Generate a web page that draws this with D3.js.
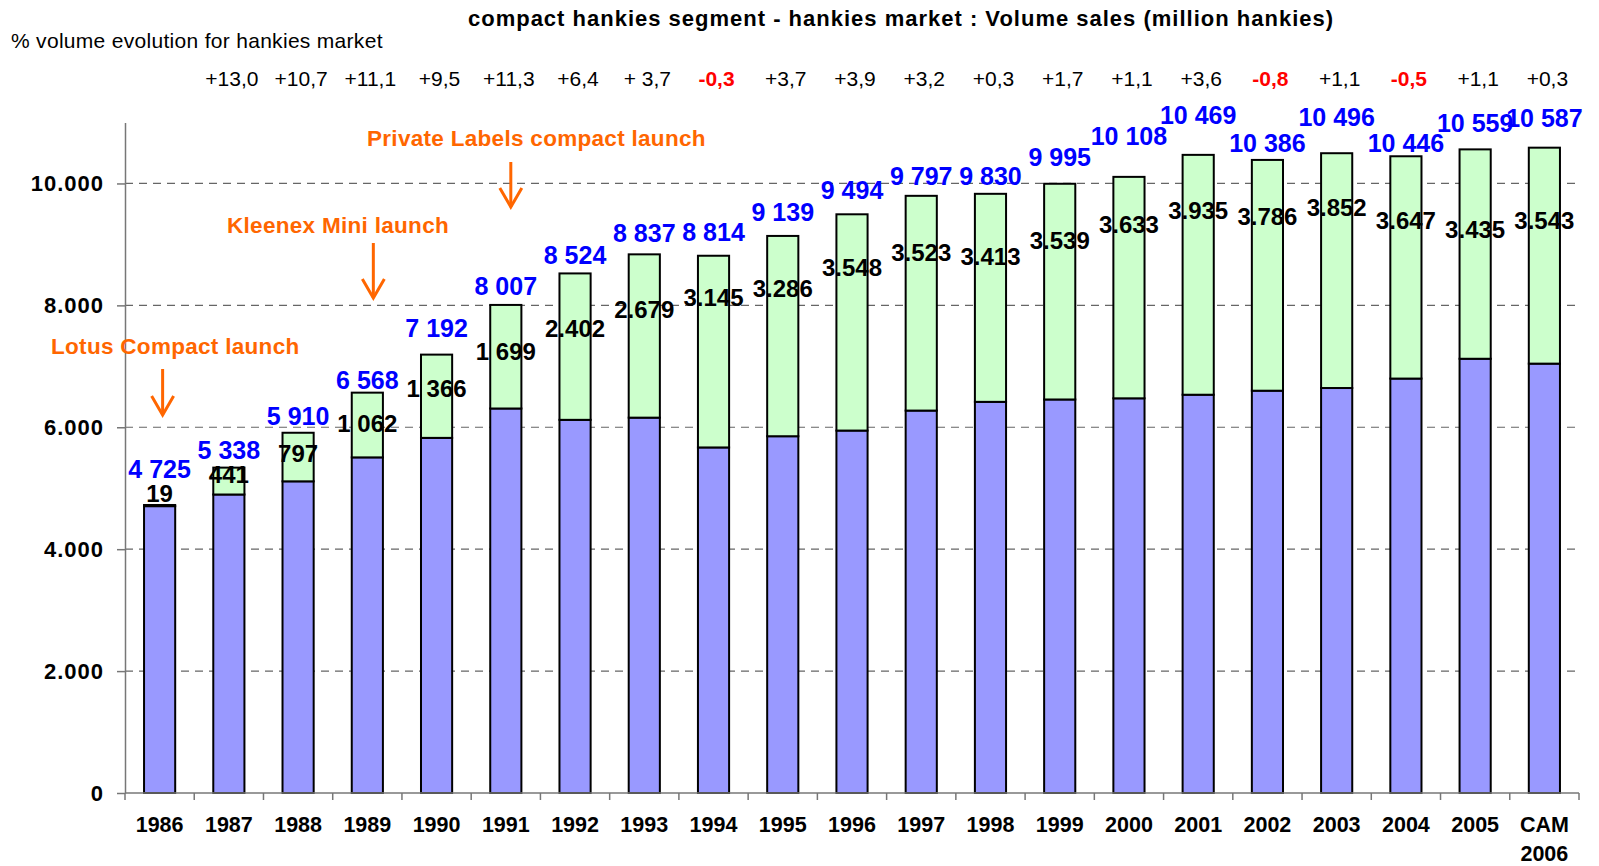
<!DOCTYPE html>
<html>
<head>
<meta charset="utf-8">
<script src="https://cdn.jsdelivr.net/npm/d3@7"></script>
<style>
  body { margin: 0; background: #fff; }
  text { font-family: "Liberation Sans", Arial, sans-serif; }
</style>
</head>
<body>
<script>
// data (million hankies)
var years = ["1986","1987","1988","1989","1990","1991","1992","1993","1994","1995","1996",
             "1997","1998","1999","2000","2001","2002","2003","2004","2005","CAM 2006"]
var total = [4725,5338,5910,6568,7192,8007,8524,8837,8814,9139,9494,
             9797,9830,9995,10108,10469,10386,10496,10446,10559,10587]
var compact = [19,441,797,1062,1366,1699,2402,2679,3145,3286,3548,
               3523,3413,3539,3633,3935,3786,3852,3647,3435,3543]
// the source prints the small ones with a space, the big ones with a dot
var compactText = ["19","441","797","1 062","1 366","1 699","2.402","2.679","3.145","3.286","3.548",
                   "3.523","3.413","3.539","3.633","3.935","3.786","3.852","3.647","3.435","3.543"]
// % volume evolution, from 1987 to CAM 2006
var evolution = ["+13,0","+10,7","+11,1","+9,5","+11,3","+6,4","+ 3,7","-0,3","+3,7","+3,9",
                 "+3,2","+0,3","+1,7","+1,1","+3,6","-0,8","+1,1","-0,5","+1,1","+0,3"]
var yTicks = [0,2000,4000,6000,8000,10000]

var launches = [
  {text: "Lotus Compact launch", year: "1986"},
  {text: "Kleenex Mini launch", year: "1989"},
  {text: "Private Labels compact launch", year: "1991"}
]

// hand placement of the labels, as in the original sheet (pixels)
var totalLift = [36,18,17,13,27,19,18,21,24,24,24,20,18,27,41,40,17,36,13,26,30]
var compactDrop = [-11,7,21,31,34,47,55,55,42,53,53,57,63,57,48,56,57,54,64,80,73]

var width = 1599, height = 866
var mLeft = 125, mRight = 1579, mTop = 122.5, mBottom = 793

var svg = d3.select("body").append("svg")
    .attr("width", width)
    .attr("height", height)

var x = d3.scaleBand().domain(years).range([mLeft, mRight]).padding(0)
var y = d3.scaleLinear().domain([0, 11000]).range([mBottom, mTop])
var barW = x.bandwidth() * 0.45
var cx = function (d) { return x(d) + x.bandwidth() / 2 }

var fmtTick = d3.formatLocale({decimal: ",", thousands: ".", grouping: [3], currency: ["", ""]}).format(",d")
var fmtTotal = d3.formatLocale({decimal: ",", thousands: " ", grouping: [3], currency: ["", ""]}).format(",d")

// title
svg.append("text")
    .attr("x", 901).attr("y", 26)
    .attr("text-anchor", "middle")
    .style("font-size", "22px").style("font-weight", "bold")
    .style("letter-spacing", "1px")
    .text("compact hankies segment - hankies market : Volume sales (million hankies)")

svg.append("text")
    .attr("x", 11).attr("y", 48)
    .style("font-size", "21px")
    .style("letter-spacing", "0.3px")
    .text("% volume evolution for hankies market")

// gridlines
svg.append("g").selectAll("line")
    .data(yTicks.filter(function (d) { return d > 0 }))
    .enter().append("line")
    .attr("x1", mLeft).attr("x2", mRight)
    .attr("y1", function (d) { return y(d) }).attr("y2", function (d) { return y(d) })
    .attr("stroke", "#666").attr("stroke-width", 1.2)
    .attr("stroke-dasharray", "8,6")

// y axis
var yAxis = svg.append("g")
    .attr("transform", "translate(" + mLeft + ",0)")
    .call(d3.axisLeft(y).tickValues(yTicks).tickSize(8).tickSizeOuter(0).tickPadding(13).tickFormat(fmtTick))
yAxis.select(".domain").attr("stroke", "#777").attr("stroke-width", 1.5)
yAxis.selectAll(".tick line").attr("stroke", "#777").attr("stroke-width", 1.5)
yAxis.selectAll(".tick text")
    .style("font-size", "22px").style("font-weight", "bold")
    .style("letter-spacing", "1px").attr("fill", "#000")

// bars
var bars = svg.append("g").selectAll("g")
    .data(years)
    .enter().append("g")

bars.append("rect")
    .attr("x", function (d) { return cx(d) - barW / 2 })
    .attr("width", barW)
    .attr("y", function (d, i) { return y(total[i] - compact[i]) })
    .attr("height", function (d, i) { return y(0) - y(total[i] - compact[i]) })
    .attr("fill", "#9999FF").attr("stroke", "#000").attr("stroke-width", 2)

bars.append("rect")
    .attr("x", function (d) { return cx(d) - barW / 2 })
    .attr("width", barW)
    .attr("y", function (d, i) { return y(total[i]) })
    .attr("height", function (d, i) { return y(total[i] - compact[i]) - y(total[i]) })
    .attr("fill", "#CCFFCC").attr("stroke", "#000").attr("stroke-width", 2)

// x axis
svg.append("line")
    .attr("x1", mLeft).attr("x2", mRight).attr("y1", mBottom).attr("y2", mBottom)
    .attr("stroke", "#777").attr("stroke-width", 1.5)

svg.append("g").selectAll("line")
    .data(years.concat(["end"]))
    .enter().append("line")
    .attr("x1", function (d) { return d == "end" ? mRight : x(d) })
    .attr("x2", function (d) { return d == "end" ? mRight : x(d) })
    .attr("y1", mBottom).attr("y2", mBottom + 7)
    .attr("stroke", "#777").attr("stroke-width", 1.5)

var yearLabels = svg.append("g").selectAll("text")
    .data(years)
    .enter().append("text")
    .attr("x", function (d) { return cx(d) })
    .attr("y", 832)
    .attr("text-anchor", "middle")
    .style("font-size", "21.5px").style("font-weight", "bold")
yearLabels.each(function (d) {
    var parts = d.split(" ")
    var t = d3.select(this)
    parts.forEach(function (p, k) {
        t.append("tspan").attr("x", cx(d)).attr("dy", k == 0 ? 0 : 29).text(p)
    })
})

// value labels
svg.append("g").selectAll("text")
    .data(years)
    .enter().append("text")
    .attr("x", function (d) { return cx(d) })
    .attr("y", function (d, i) { return y(total[i]) - totalLift[i] + 9 })
    .attr("text-anchor", "middle")
    .attr("fill", "#0000FF")
    .style("font-size", "25px").style("font-weight", "bold")
    .text(function (d, i) { return fmtTotal(total[i]) })

svg.append("g").selectAll("text")
    .data(years)
    .enter().append("text")
    .attr("x", function (d) { return cx(d) })
    .attr("y", function (d, i) { return y(total[i]) + compactDrop[i] + 8.5 })
    .attr("text-anchor", "middle")
    .attr("fill", "#000")
    .style("font-size", "24px").style("font-weight", "bold")
    .text(function (d, i) { return compactText[i] })

// evolution row
svg.append("g").selectAll("text")
    .data(evolution)
    .enter().append("text")
    .attr("x", function (d, i) { return cx(years[i + 1]) + 3 })
    .attr("y", 86)
    .attr("text-anchor", "middle")
    .attr("fill", function (d) { return d[0] == "-" ? "#FF0000" : "#000" })
    .style("font-size", "21px")
    .style("font-weight", function (d) { return d[0] == "-" ? "bold" : "normal" })
    .text(function (d) { return d })

// launch annotations
var orange = "#FF6600"
var annY = [{ty: 354, a0: 369, a1: 415, tx: 51}, {ty: 233, a0: 243, a1: 298, tx: 227}, {ty: 146, a0: 162, a1: 207, tx: 367}]
launches.forEach(function (l, k) {
    var ax = cx(l.year) + (k == 0 ? 3 : k == 1 ? 6 : 5)
    svg.append("text")
        .attr("x", annY[k].tx).attr("y", annY[k].ty)
        .attr("fill", orange)
        .style("font-size", "22.5px").style("font-weight", "bold")
        .style("letter-spacing", "0.3px")
        .text(l.text)
    svg.append("line")
        .attr("x1", ax).attr("x2", ax).attr("y1", annY[k].a0).attr("y2", annY[k].a1)
        .attr("stroke", orange).attr("stroke-width", 3)
    svg.append("path")
        .attr("d", "M" + (ax - 11) + "," + (annY[k].a1 - 19) + "L" + ax + "," + annY[k].a1 + "L" + (ax + 11) + "," + (annY[k].a1 - 19))
        .attr("fill", "none").attr("stroke", orange).attr("stroke-width", 3)
})
</script>
</body>
</html>
